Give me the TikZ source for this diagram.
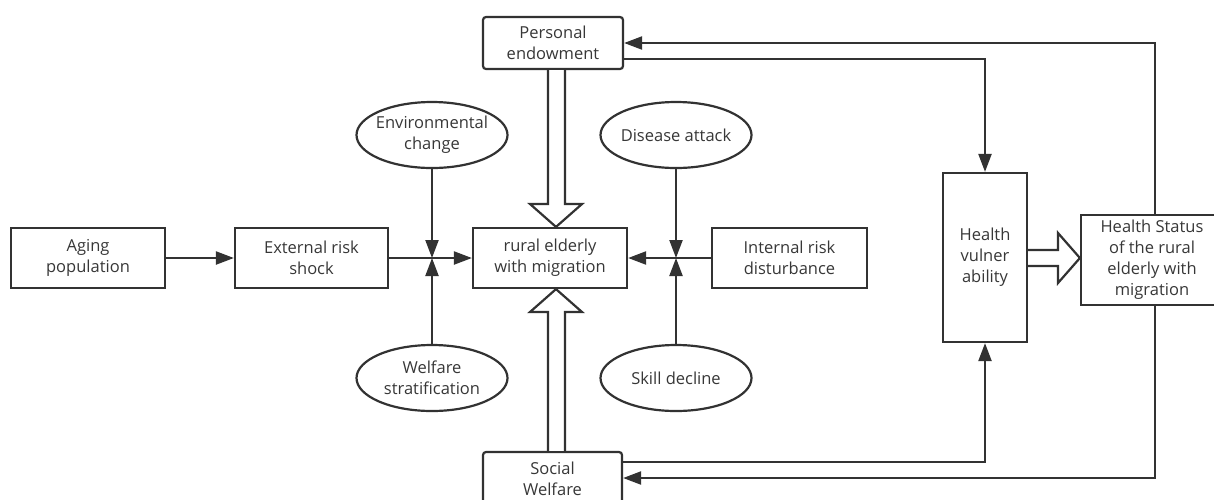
\documentclass[tikz,border=0pt]{standalone}
\usepackage{fontspec}
\setmainfont{Open Sans}
\usetikzlibrary{arrows.meta,shapes.geometric}
\definecolor{lc}{RGB}{50,50,50}
\definecolor{tc}{RGB}{55,55,55}
\begin{document}
\begin{tikzpicture}[x=1pt,y=-1pt,
  every node/.style={font=\fontsize{16.5}{21}\selectfont, text=tc, align=center, inner sep=0pt},
  box/.style={draw=lc, line width=2.2pt, rectangle},
  rbox/.style={box, rounded corners=3pt},
  oval/.style={draw=lc, line width=2.2pt, ellipse, inner xsep=-13pt, inner ysep=-2pt, minimum width=151pt, minimum height=66pt},
  conn/.style={draw=lc, line width=2.2pt, -{Triangle[length=18pt,width=13pt]}},
  hollow/.style={draw=lc, line width=2.2pt, fill=white, line join=miter}]
\useasboundingbox (0,0) rectangle (1214,499);
\clip (0,0) rectangle (1214,499);
% nodes
\node[box, minimum width=154pt, minimum height=60pt] (aging) at (88,258) {Aging\\population};
\node[box, minimum width=153pt, minimum height=60pt] (ers) at (311.5,258) {External risk\\shock};
\node[box, minimum width=154pt, minimum height=60pt] (rural) at (550,258) {rural elderly\\with migration};
\node[box, minimum width=155pt, minimum height=60pt] (ird) at (789.5,258) {Internal risk\\disturbance};
\node[rbox, minimum width=140pt, minimum height=52pt] (pe) at (553,43) {Personal\\endowment};
\node[rbox, minimum width=139pt, minimum height=60pt] (sw) at (552.5,482) {Social\\Welfare\vphantom{\strut}};
\node[oval] (env) at (432,135) {Environmental\\change};
\node[oval] (wel) at (432,378) {Welfare\\stratification};
\node[oval] (dis) at (676,135) {Disease attack};
\node[oval] (skill) at (676,378) {Skill decline};
\node[box, minimum width=84pt, minimum height=169pt] (hv) at (985,257.5) {Health\\vulner\\ability};
\node[box, minimum width=142pt, minimum height=90pt] (hs) at (1152,260) {Health Status\\of the rural\\elderly with\\migration};
\coordinate (jl) at (432,258);
\coordinate (jr) at (676,258);
% connectors
\draw[conn] (aging) -- (ers);
\draw[conn] (ers) -- (rural);
\draw[conn] (env) -- (jl);
\draw[conn] (wel) -- (jl);
\draw[conn] (ird) -- (rural);
\draw[conn] (dis) -- (jr);
\draw[conn] (skill) -- (jr);
\draw[conn] ([xshift=3pt]hs.north) |- (pe.east);
\draw[conn] ([yshift=-16pt]pe.east) -| (hv.north);
\draw[conn] ([xshift=3pt]hs.south) |- ([yshift=4pt]sw.east);
\draw[conn] ([yshift=20pt]sw.east) -| (hv.south);
% hollow arrows
\draw[hollow] (pe.south -| 548,0) -- (548,204) -- (530,204) -- (rural.north -| 556,0) -- (582,204) -- (565,204) -- (pe.south -| 565,0);
\draw[hollow] (sw.north -| 548,0) -- (548,312) -- (530,312) -- (rural.south -| 556,0) -- (582,312) -- (565,312) -- (sw.north -| 565,0);
\draw[hollow] (hv.east |- 0,250) -- (1058,250) -- (1058,233) -- (hs.west |- 0,258) -- (1058,283) -- (1058,266) -- (hv.east |- 0,266);
\end{tikzpicture}
\end{document}
